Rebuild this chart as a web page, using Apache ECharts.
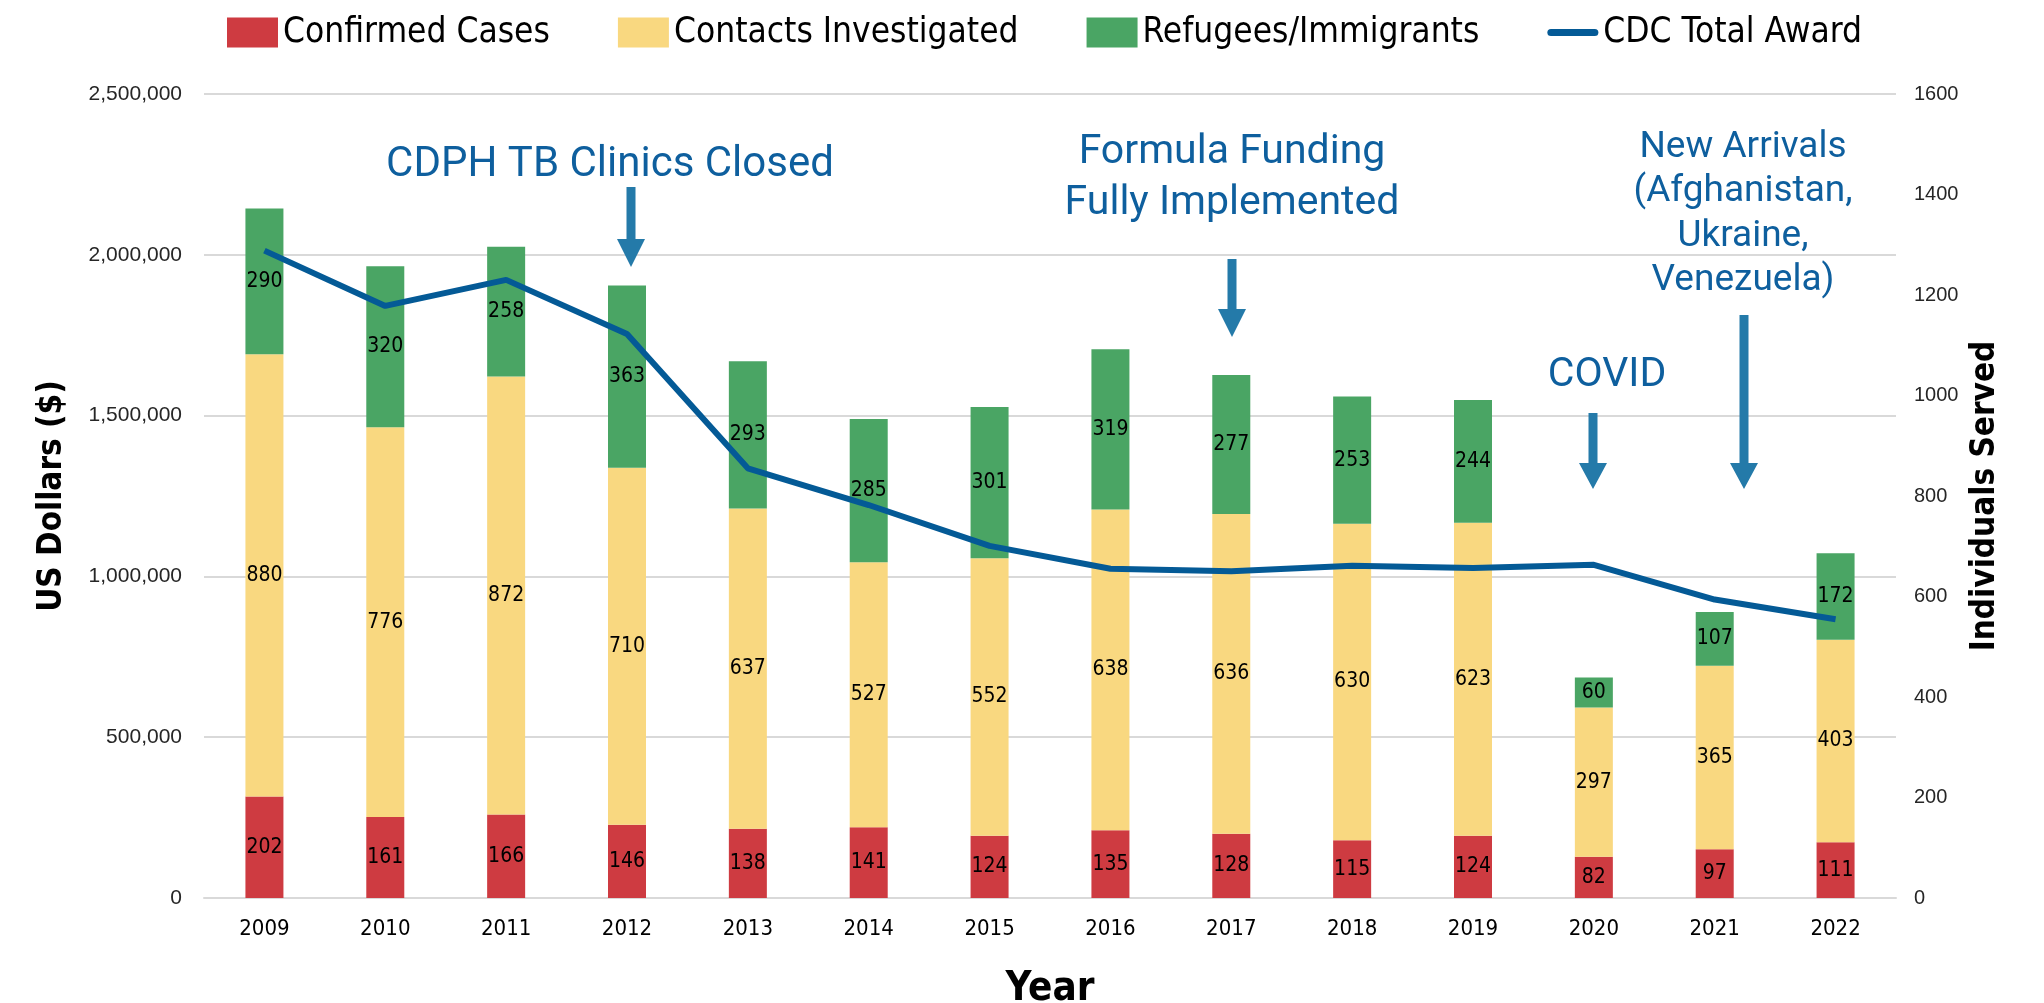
<!DOCTYPE html>
<html>
<head>
<meta charset="utf-8">
<script src="https://cdn.jsdelivr.net/npm/echarts@6/dist/echarts.min.js"></script>
<style>
html, body { margin: 0; padding: 0; background: #fff; }
#main { width: 2044px; height: 1003px; }
</style>
</head>
<body>
<div id="main"></div>
<script>
// data
var years = ['2009', '2010', '2011', '2012', '2013', '2014', '2015', '2016', '2017', '2018', '2019', '2020', '2021', '2022'];
var confirmedCases = [202, 161, 166, 146, 138, 141, 124, 135, 128, 115, 124, 82, 97, 111];
var contactsInvestigated = [880, 776, 872, 710, 637, 527, 552, 638, 636, 630, 623, 297, 365, 403];
var refugeesImmigrants = [290, 320, 258, 363, 293, 285, 301, 319, 277, 253, 244, 60, 107, 172];
var cdcTotalAward = [2013000, 1841000, 1922000, 1754000, 1336000, 1222000, 1095000, 1024000, 1016000, 1033000, 1026000, 1036000, 928000, 867000];

var narrow = '"Liberation Sans Narrow", "Arial Narrow", "DejaVu Sans Condensed", sans-serif';
var noteColor = '#0E5F9E';
var arrowColor = '#247AA9';

var myChart = echarts.init(document.getElementById('main'));

// down arrow as polygon: x centre, shaft top, head top, tip
function arrow(x, top, headTop, tip) {
    return {
        type: 'polygon',
        z: 100,
        shape: {
            points: [
                [x - 4.5, top], [x + 4.5, top], [x + 4.5, headTop], [x + 14, headTop],
                [x, tip], [x - 14, headTop], [x - 4.5, headTop]
            ]
        },
        style: { fill: arrowColor }
    };
}

function note(text, x, y, size, lh) {
    return {
        type: 'text',
        z: 100,
        x: x,
        y: y,
        style: {
            text: text,
            fill: noteColor,
            font: size + 'px Roboto',
            lineHeight: lh || size * 1.2,
            align: 'center',
            verticalAlign: 'middle'
        }
    };
}

function barSeries(name, data, color) {
    return {
        name: name,
        type: 'bar',
        stack: 'people',
        yAxisIndex: 1,
        barWidth: 38,
        data: data,
        itemStyle: { color: color },
        label: {
            show: true,
            position: 'inside',
            color: '#000',
            fontFamily: narrow,
            fontSize: 21
        }
    };
}

var option = {
    backgroundColor: '#fff',
    animation: false,
    grid: { left: 204, right: 148, top: 94, bottom: 105, outerBoundsMode: 'none', containLabel: false },
    legend: {
        left: 222,
        top: 10,
        itemWidth: 51,
        itemHeight: 30,
        itemGap: 68,
        textStyle: { fontFamily: narrow, fontSize: 35, color: '#000' },
        data: [
            { name: 'Confirmed Cases', icon: 'rect' },
            { name: 'Contacts Investigated', icon: 'rect' },
            { name: 'Refugees/Immigrants', icon: 'rect' },
            { name: 'CDC Total Award', icon: 'path://M4,0 L53,0 A4,4 0 0 1 53,8 L4,8 A4,4 0 0 1 4,0 Z' }
        ]
    },
    xAxis: {
        type: 'category',
        data: years,
        name: 'Year',
        nameLocation: 'middle',
        nameGap: 72,
        nameTextStyle: { fontFamily: narrow, fontSize: 40, fontWeight: 'bold', color: '#000' },
        axisLine: { lineStyle: { color: '#D9D9D9', width: 2 } },
        axisTick: { show: false },
        axisLabel: { fontFamily: narrow, fontSize: 22, color: '#000', margin: 20 }
    },
    yAxis: [
        {
            type: 'value',
            min: 0,
            max: 2500000,
            interval: 500000,
            name: 'US Dollars ($)',
            nameLocation: 'middle',
            nameRotate: 90,
            nameGap: 135,
            nameTextStyle: { fontFamily: narrow, fontSize: 33, fontWeight: 'bold', color: '#000' },
            axisLine: { show: false },
            axisTick: { show: false },
            axisLabel: {
                fontFamily: '"Liberation Sans", Arial, sans-serif',
                fontSize: 21,
                color: '#262626',
                margin: 22,
                formatter: function (v) { return v.toLocaleString('en-US'); }
            },
            splitLine: { lineStyle: { color: '#D9D9D9', width: 2 } }
        },
        {
            type: 'value',
            min: 0,
            max: 1600,
            interval: 200,
            name: 'Individuals Served',
            nameLocation: 'middle',
            nameRotate: 90,
            nameGap: 60,
            nameTextStyle: { fontFamily: narrow, fontSize: 33, fontWeight: 'bold', color: '#000' },
            axisLine: { show: false },
            axisTick: { show: false },
            axisLabel: {
                fontFamily: '"Liberation Sans", Arial, sans-serif',
                fontSize: 20,
                color: '#262626',
                margin: 18,
                formatter: function (v) { return String(v); }
            },
            splitLine: { show: false }
        }
    ],
    series: [
        barSeries('Confirmed Cases', confirmedCases, '#CE3B41'),
        barSeries('Contacts Investigated', contactsInvestigated, '#F9D880'),
        barSeries('Refugees/Immigrants', refugeesImmigrants, '#4AA564'),
        {
            name: 'CDC Total Award',
            type: 'line',
            yAxisIndex: 0,
            data: cdcTotalAward,
            symbol: 'none',
            z: 5,
            itemStyle: { color: '#045A96' },
            lineStyle: { color: '#045A96', width: 6 }
        }
    ],
    graphic: [
        note('CDPH TB Clinics Closed', 610, 165, 42),
        arrow(631, 187, 239, 267),
        note('Formula Funding\nFully Implemented', 1232, 178, 41, 51.5),
        arrow(1232, 259, 309, 337),
        note('COVID', 1607, 376, 41),
        arrow(1593, 413, 463, 489),
        note('New Arrivals\n(Afghanistan,\nUkraine,\nVenezuela)', 1743, 214, 37, 44.5),
        arrow(1744, 315, 463, 489)
    ]
};

if (option && typeof option === 'object') {
    myChart.setOption(option, true);
}
</script>
</body>
</html>
